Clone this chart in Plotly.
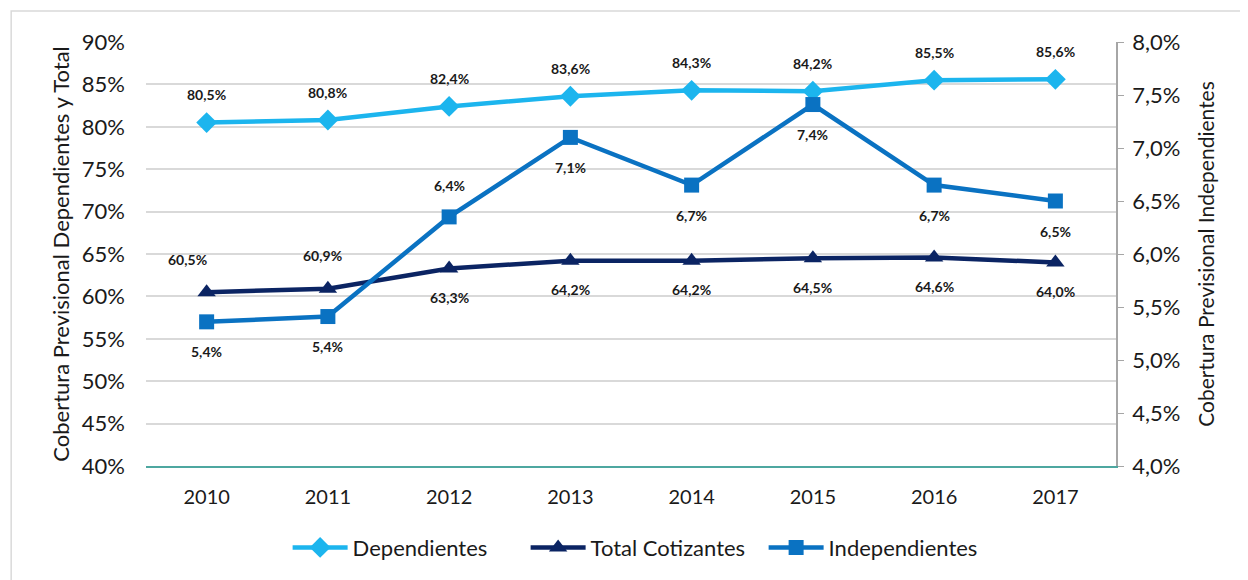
import plotly.graph_objects as go

years = ["2010", "2011", "2012", "2013", "2014", "2015", "2016", "2017"]
dependientes = [80.5, 80.8, 82.4, 83.6, 84.3, 84.2, 85.5, 85.6]
total_cotizantes = [60.5, 60.9, 63.3, 64.2, 64.2, 64.5, 64.6, 64.0]
independientes = [5.36, 5.41, 6.35, 7.10, 6.65, 7.41, 6.65, 6.50]
indep_labels = ["5,4%", "5,4%", "6,4%", "7,1%", "6,7%", "7,4%", "6,7%", "6,5%"]

C_DEP = "#1cb5ee"
C_TOT = "#0b2463"
C_IND = "#0a72c2"

FONT = "Lato"


def pct(v):
    return f"{v:.1f}%".replace(".", ",")


fig = go.Figure()

fig.add_trace(go.Scatter(
    x=years, y=dependientes, name="Dependientes", mode="lines+markers",
    line=dict(color=C_DEP, width=4.5),
    marker=dict(symbol="diamond", size=16, color=C_DEP),
))
fig.add_trace(go.Scatter(
    x=years, y=total_cotizantes, name="Total Cotizantes", mode="lines+markers",
    line=dict(color=C_TOT, width=4.5),
    marker=dict(symbol="triangle-up", size=16, color=C_TOT),
))
fig.add_trace(go.Scatter(
    x=years, y=independientes, name="Independientes", mode="lines+markers",
    line=dict(color=C_IND, width=4.5),
    marker=dict(symbol="square", size=15, color=C_IND),
    yaxis="y2",
))

# annotations use category index on the x axis
lab_font = dict(family=FONT, size=14, color="#1a1a1a")
annotations = []
for i, v in enumerate(dependientes):
    annotations.append(dict(x=i, y=v, text=f"<b>{pct(v)}</b>", showarrow=False,
                            yshift=28, font=lab_font))
for i, v in enumerate(total_cotizantes):
    if i < 2:
        annotations.append(dict(x=i, y=v, text=f"<b>{pct(v)}</b>", showarrow=False,
                                yshift=33, xshift=-19 if i == 0 else -5, font=lab_font))
    else:
        annotations.append(dict(x=i, y=v, text=f"<b>{pct(v)}</b>", showarrow=False,
                                yshift=-29, font=lab_font))
for i, (v, t) in enumerate(zip(independientes, indep_labels)):
    up = i == 2
    annotations.append(dict(x=i, y=v, yref="y2", text=f"<b>{t}</b>", showarrow=False,
                            yshift=31 if up else -30, font=lab_font))

fig.update_layout(
    width=1248, height=580,
    paper_bgcolor="white", plot_bgcolor="white",
    margin=dict(l=138, r=140, t=34, b=122),
    font=dict(family=FONT, color="#1a1a1a"),
    showlegend=True,
    legend=dict(orientation="h", x=0.146, xanchor="left", y=-0.143, yanchor="top",
                font=dict(size=22, family=FONT), itemwidth=55, traceorder="normal",
                entrywidth=168, entrywidthmode="pixels"),
    xaxis=dict(
        type="category", range=[-0.5, len(years) - 0.5],
        showgrid=False, showline=True, linecolor="#4ea7a0", linewidth=2,
        tickfont=dict(size=20), ticks="", ticklabelstandoff=12,
    ),
    yaxis=dict(
        range=[40, 90], dtick=5, ticksuffix="%", showgrid=True, gridcolor="#d9d9d9",
        gridwidth=1.5, zeroline=False, showline=False, tickfont=dict(size=22),
        ticklabelstandoff=20,
        title=dict(text="Cobertura Previsional Dependientes y Total", font=dict(size=22),
                   standoff=6),
    ),
    yaxis2=dict(
        range=[4.0, 8.0], dtick=0.5, overlaying="y", side="right", showgrid=False,
        tickformat=".1f", ticksuffix="%", showline=True, linecolor="#a6a6a6", linewidth=1.5,
        ticks="outside", ticklen=6, tickcolor="#a6a6a6", tickfont=dict(size=22),
        ticklabelstandoff=4, zeroline=False,
        title=dict(text="Cobertura Previsional Independientes", font=dict(size=21),
                   standoff=20),
    ),
    separators=",.",
    annotations=annotations,
    shapes=[dict(type="rect", xref="paper", yref="paper", x0=-0.139, x1=1.3,
                 y0=-0.5, y1=1.073, line=dict(color="#d9d9d9", width=1.5))],
)

fig.write_html("out.html")
